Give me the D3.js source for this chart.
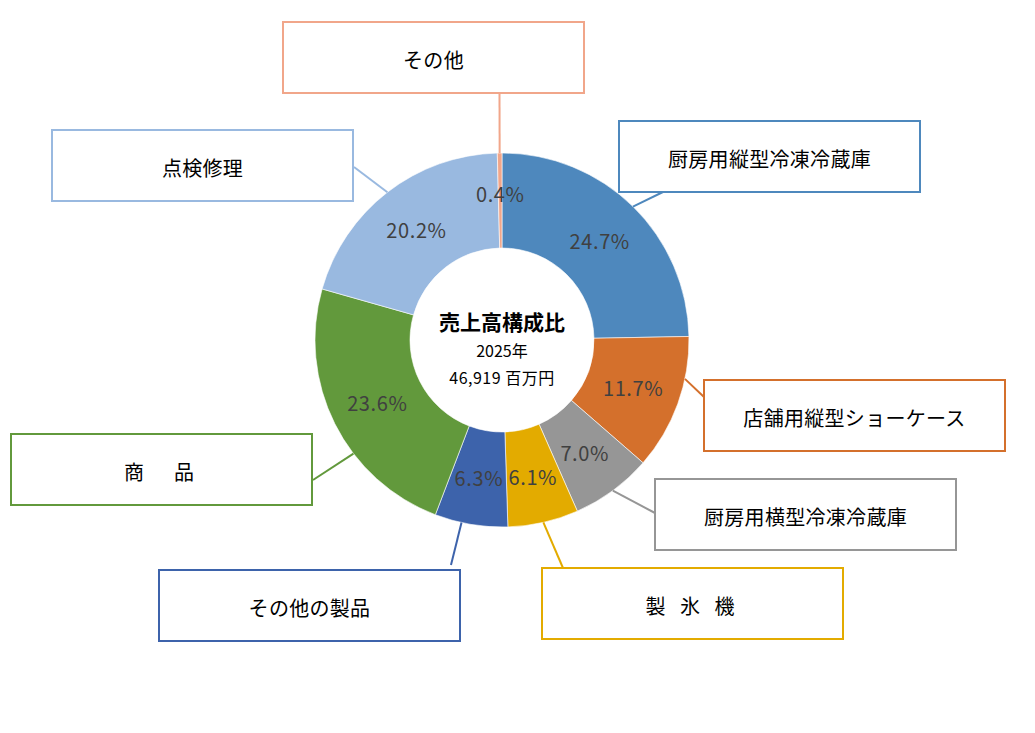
<!DOCTYPE html>
<html>
<head>
<meta charset="utf-8">
<script src="https://cdn.jsdelivr.net/npm/d3@7"></script>
<style>
  body { margin: 0; background: #fff; }
  svg { display: block; font-family: "Noto Sans CJK JP", "Noto Sans", sans-serif; }
</style>
</head>
<body>
<svg id="chart" width="1035" height="733"></svg>
<script>
// data (clockwise from 12 o'clock)
const categories = ["厨房用縦型冷凍冷蔵庫", "店舗用縦型ショーケース", "厨房用横型冷凍冷蔵庫", "製 氷 機",
  "その他の製品", "商　品", "点検修理", "その他"];
const shares = [24.7, 11.7, 7.0, 6.1, 6.3, 23.6, 20.2, 0.4];
const colors = ["#4e88bd", "#d4702c", "#969696", "#e3ab00", "#3d63ab", "#62993c", "#99b9e0", "#f1a68a"];
const centerTitle = "売上高構成比";
const centerYear = "2025年";
const centerTotal = "46,919 百万円";

// label box layout: top-left corner, leader end on box, optional leader start angle (deg)
const boxLayout = [
  { x: 619, y: 121, ex: 665, ey: 191 },
  { x: 704, y: 380, ex: 704, ey: 397, a: 102 },
  { x: 655, y: 479, ex: 655, ey: 513 },
  { x: 542, y: 568, ex: 563, ey: 568 },
  { x: 159, y: 570, ex: 451, ey: 565, a: 192.5 },
  { x: 11, y: 434, ex: 313, ey: 480, a: 232.6 },
  { x: 52, y: 130, ex: 354, ey: 167 },
  { x: 283, y: 22, ex: 499.5, ey: 94 }
];

const width = 1035, height = 733;
const cx = 502, cy = 340;
const outerR = 187, innerR = 92;
const boxW = 301, boxH = 71;

const svg = d3.select("#chart");

const data = categories.map((c, i) => ({ name: c, value: shares[i], color: colors[i], box: boxLayout[i] }));

const pie = d3.pie().value(d => d.value).sort(null);
const arc = d3.arc().innerRadius(innerR).outerRadius(outerR);
const arcs = pie(data);

const g = svg.append("g").attr("transform", `translate(${cx},${cy})`);

g.selectAll("path.slice")
  .data(arcs)
  .enter()
  .append("path")
  .attr("class", "slice")
  .attr("d", arc)
  .attr("fill", d => d.data.color)
  .attr("stroke", "#fff")
  .attr("stroke-width", 0.6);

// percent labels
g.selectAll("text.pct")
  .data(arcs)
  .enter()
  .append("text")
  .attr("class", "pct")
  .attr("transform", d => {
    const [x, y] = arc.centroid(d);
    const shift = d.data.value < 1 ? -7 : 0; // tiny slice label sits a bit higher
    return `translate(${x},${y + shift})`;
  })
  .attr("text-anchor", "middle")
  .attr("dominant-baseline", "central")
  .style("font-size", "20px")
  .style("letter-spacing", "0.6px")
  .style("fill", "#404040")
  .text(d => d3.format(".1f")(d.data.value) + "%");

// leader lines
const leaderAngle = d => d.data.box.a != null ? d.data.box.a * Math.PI / 180 : (d.startAngle + d.endAngle) / 2;
svg.selectAll("line.leader")
  .data(arcs)
  .enter()
  .append("line")
  .attr("class", "leader")
  .attr("x1", d => cx + outerR * Math.sin(leaderAngle(d)))
  .attr("y1", d => cy - outerR * Math.cos(leaderAngle(d)))
  .attr("x2", d => d.data.box.ex)
  .attr("y2", d => d.data.box.ey)
  .attr("stroke", d => d.data.color)
  .attr("stroke-width", 2);

// label boxes
const boxes = svg.selectAll("g.box")
  .data(data)
  .enter()
  .append("g")
  .attr("class", "box")
  .attr("transform", d => `translate(${d.box.x},${d.box.y})`);

boxes.append("rect")
  .attr("width", boxW)
  .attr("height", boxH)
  .attr("fill", "#fff")
  .attr("stroke", d => d.color)
  .attr("stroke-width", 2);

boxes.append("text")
  .attr("x", boxW / 2)
  .attr("y", boxH / 2 + 2)
  .attr("text-anchor", "middle")
  .attr("dominant-baseline", "central")
  .style("font-size", "20px")
  .style("fill", "#000")
  .style("white-space", "pre")
  .style("letter-spacing", d => d.name.includes(" ") || d.name.includes("　") ? "5px" : "0.3px")
  .text(d => d.name);

// center text
const center = svg.append("g").attr("transform", `translate(${cx},${cy})`);
center.append("text")
  .attr("y", -19)
  .attr("text-anchor", "middle")
  .attr("dominant-baseline", "central")
  .style("font-size", "21px")
  .style("font-weight", "bold")
  .text(centerTitle);
center.append("text")
  .attr("y", 10)
  .attr("text-anchor", "middle")
  .attr("dominant-baseline", "central")
  .style("font-size", "16px")
  .text(centerYear);
center.append("text")
  .attr("y", 37)
  .attr("text-anchor", "middle")
  .attr("dominant-baseline", "central")
  .style("font-size", "16px")
  .style("letter-spacing", "0.5px")
  .text(centerTotal);
</script>
</body>
</html>
